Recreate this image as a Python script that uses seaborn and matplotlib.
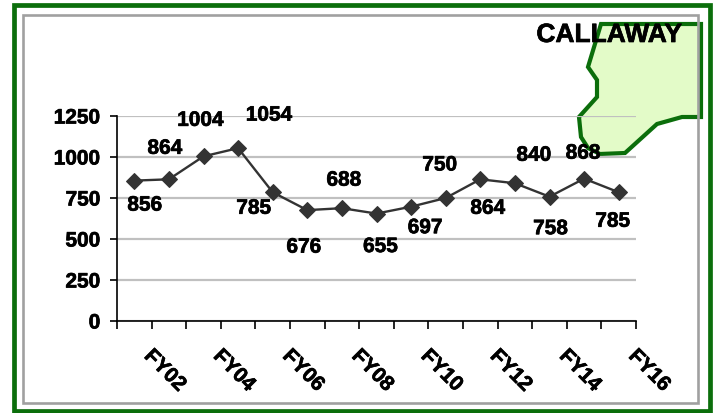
import numpy as np
import pandas as pd
import matplotlib
matplotlib.use("Agg")
import matplotlib.pyplot as plt
import matplotlib.patheffects as pe
from matplotlib.patches import Polygon, Rectangle
from matplotlib.transforms import ScaledTranslation
import seaborn as sns

years = ["FY02","FY03","FY04","FY05","FY06","FY07","FY08","FY09","FY10","FY11","FY12","FY13","FY14","FY15","FY16"]
values = [856,864,1004,1054,785,676,688,655,697,750,864,840,758,868,785]
yticks = [0,250,500,750,1000,1250]
title = "CALLAWAY"

# label offsets from each point, in pixels
label_dx = [10.5,-4,-3,31,-19,-3.5,2,4,14,-6,7.5,19,1,-1,-6]
label_dy = [-24.5,31,36,33,-16,-37,28,-33,-21,33,-29,28,-32,25.5,-29]

W, H = 717, 413
sns.set_theme(style="white")
plt.rcParams['font.family'] = ['Liberation Sans', 'DejaVu Sans']
plt.rcParams['font.weight'] = 'bold'
fig = plt.figure(figsize=(W/100, H/100), dpi=100, facecolor="white")
px = lambda x, y: (x/W, 1-y/H)
heavy = [pe.withStroke(linewidth=0.5, foreground="black")]

def frame(x0, y0, x1, y1, color, lw, z):
    fig.add_artist(Rectangle(px(x0, y1), (x1-x0)/W, (y1-y0)/H, transform=fig.transFigure,
                             fill=False, edgecolor=color, linewidth=lw, zorder=z))

shape = [(601,24),(701,24),(701,117),(682,117),(657,124),(625,153),(600,154),(588,148),
         (581,137),(579,117),(597,97),(597,80),(588,67)]
fig.add_artist(Polygon([px(*p) for p in shape], closed=True, transform=fig.transFigure,
                       facecolor="#E3FBC8", edgecolor="#0B6E0B", linewidth=3, zorder=0))
frame(13.5, 5, 709.5, 411, "#0B6E0B", 3.4, 1)
frame(22.5, 14.5, 697.5, 403, "#A0A0A0", 1.9, 1)

ax = fig.add_axes([117/W, 1-321/H, (636-117)/W, (321-116)/H], zorder=2)
ax.patch.set_alpha(0)
df = pd.DataFrame({"x": np.arange(len(years)), "y": values})
sns.lineplot(data=df, x="x", y="y", ax=ax, color="#333333", linewidth=1.7, marker="D",
             markersize=8, markeredgecolor="#333333", zorder=3, errorbar=None)
ax.set_xlim(-0.5, len(years)-0.5)
ax.set_ylim(0, 1250)
ax.set_xlabel(""); ax.set_ylabel("")
ax.set_yticks(yticks)
ax.set_yticklabels([str(v) for v in yticks], fontsize=15, fontweight="bold", color="black",
                   path_effects=heavy)
ax.yaxis.grid(True, color="#C0C0C0", linewidth=1.6, zorder=1)
ax.set_axisbelow(True)
ax.tick_params(axis="y", left=True, length=5, width=1.2, color="black", pad=7)
ax.set_xticks(np.arange(0, len(years), 2))
ax.set_xticklabels(years[::2], rotation=-45, ha="left", va="center", rotation_mode="anchor",
                   fontsize=15, fontweight="bold", color="black", path_effects=heavy)
ax.set_xticks(np.arange(-0.5, len(years)), minor=True)
ax.tick_params(axis="x", which="major", length=0, pad=0)
ax.tick_params(axis="x", which="minor", bottom=True, length=6, width=1.2, color="black")
shift = ScaledTranslation(13/100, -32/100, fig.dpi_scale_trans)
for t in ax.get_xticklabels():
    t.set_transform(t.get_transform() + shift)
for s in ["top", "right"]:
    ax.spines[s].set_visible(False)
for s in ["left", "bottom"]:
    ax.spines[s].set_color("black"); ax.spines[s].set_linewidth(1.2)

for i, v in enumerate(values):
    ax.annotate(str(v), (i, v), xytext=(label_dx[i]*0.72, label_dy[i]*0.72),
                textcoords="offset points", ha="center", va="center",
                fontsize=15, fontweight="bold", color="black", zorder=5, path_effects=heavy)

fig.text(609/W, 1-35/H, title, ha="center", va="center", fontsize=19, fontweight="bold",
         color="black", zorder=5, path_effects=heavy)
fig.savefig("out.png", dpi=100)
